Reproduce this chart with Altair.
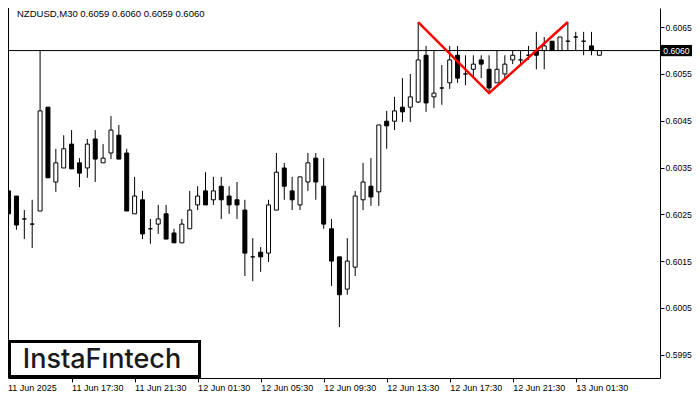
import altair as alt
import pandas as pd

# ---------------- data ----------------
opens = [0.60300, 0.60289, 0.60240, 0.60229, 0.60257, 0.60479, 0.60319, 0.60349, 0.60400, 0.60360,
         0.60349, 0.60411, 0.60360, 0.60381, 0.60419, 0.60381, 0.60251, 0.60281, 0.60219, 0.60229,
         0.60251, 0.60210, 0.60189, 0.60219, 0.60270, 0.60300, 0.60281, 0.60310, 0.60289, 0.60281,
         0.60259, 0.60159, 0.60169, 0.60167, 0.60259, 0.60349, 0.60300, 0.60270, 0.60319, 0.60370,
         0.60310, 0.60219, 0.60159, 0.60090, 0.60137, 0.60281, 0.60310, 0.60298, 0.60449, 0.60449,
         0.60479, 0.60479, 0.60490, 0.60590, 0.60501, 0.60520, 0.60531, 0.60590, 0.60550, 0.60560,
         0.60580, 0.60560, 0.60531, 0.60550, 0.60580, 0.60580, 0.60590, 0.60600, 0.60600, 0.60620,
         0.60600, 0.60620, 0.60629, 0.60620, 0.60610, 0.60590]
highs = [0.60304, 0.60289, 0.60259, 0.60281, 0.60600, 0.60479, 0.60390, 0.60419, 0.60430, 0.60370,
         0.60411, 0.60430, 0.60400, 0.60460, 0.60441, 0.60390, 0.60330, 0.60300, 0.60240, 0.60270,
         0.60270, 0.60219, 0.60240, 0.60300, 0.60310, 0.60340, 0.60330, 0.60330, 0.60310, 0.60319,
         0.60281, 0.60199, 0.60180, 0.60281, 0.60381, 0.60360, 0.60330, 0.60330, 0.60381, 0.60381,
         0.60370, 0.60240, 0.60159, 0.60199, 0.60300, 0.60360, 0.60370, 0.60441, 0.60471, 0.60501,
         0.60541, 0.60550, 0.60661, 0.60610, 0.60599, 0.60569, 0.60610, 0.60610, 0.60590, 0.60590,
         0.60590, 0.60590, 0.60600, 0.60590, 0.60600, 0.60600, 0.60610, 0.60640, 0.60629, 0.60620,
         0.60629, 0.60661, 0.60640, 0.60640, 0.60640, 0.60600]
lows = [0.60225, 0.60217, 0.60197, 0.60178, 0.60257, 0.60328, 0.60298, 0.60349, 0.60347, 0.60308,
        0.60328, 0.60319, 0.60360, 0.60368, 0.60368, 0.60257, 0.60251, 0.60197, 0.60187, 0.60208,
        0.60197, 0.60189, 0.60189, 0.60219, 0.60259, 0.60270, 0.60270, 0.60240, 0.60251, 0.60240,
        0.60118, 0.60107, 0.60127, 0.60148, 0.60259, 0.60281, 0.60259, 0.60259, 0.60300, 0.60281,
        0.60219, 0.60097, 0.60009, 0.60078, 0.60118, 0.60259, 0.60268, 0.60268, 0.60390, 0.60430,
        0.60447, 0.60447, 0.60488, 0.60469, 0.60477, 0.60484, 0.60518, 0.60531, 0.60526, 0.60541,
        0.60541, 0.60509, 0.60531, 0.60541, 0.60571, 0.60571, 0.60580, 0.60560, 0.60560, 0.60600,
        0.60600, 0.60600, 0.60600, 0.60590, 0.60590, 0.60590]
closes = [0.60251, 0.60227, 0.60240, 0.60229, 0.60471, 0.60328, 0.60360, 0.60390, 0.60347, 0.60338,
          0.60400, 0.60368, 0.60370, 0.60430, 0.60368, 0.60257, 0.60289, 0.60208, 0.60219, 0.60240,
          0.60197, 0.60189, 0.60229, 0.60259, 0.60289, 0.60270, 0.60300, 0.60281, 0.60270, 0.60270,
          0.60167, 0.60159, 0.60159, 0.60270, 0.60340, 0.60310, 0.60281, 0.60330, 0.60360, 0.60319,
          0.60229, 0.60150, 0.60078, 0.60150, 0.60289, 0.60319, 0.60287, 0.60441, 0.60439, 0.60471,
          0.60469, 0.60501, 0.60580, 0.60488, 0.60509, 0.60520, 0.60580, 0.60541, 0.60550, 0.60571,
          0.60571, 0.60520, 0.60560, 0.60571, 0.60590, 0.60580, 0.60590, 0.60590, 0.60610, 0.60600,
          0.60629, 0.60620, 0.60629, 0.60620, 0.60600, 0.60600]

tick_idx = [0, 8, 16, 24, 32, 40, 48, 56, 64, 72]
tick_labels = ["11 Jun 2025", "11 Jun 17:30", "11 Jun 21:30", "12 Jun 01:30", "12 Jun 05:30",
               "12 Jun 09:30", "12 Jun 13:30", "12 Jun 17:30", "12 Jun 21:30", "13 Jun 01:30"]
price_ticks = [0.5995, 0.6005, 0.6015, 0.6025, 0.6035, 0.6045, 0.6055, 0.6065]

pattern_idx = [52, 61, 71]
pattern_price = [0.60661, 0.60509, 0.60661]

current_price = 0.6060
title_text = "NZDUSD,M30  0.6059 0.6060 0.6059 0.6060"
logo_text = "InstaF\u0131ntech"

# ---------------- layout ----------------
W, H = 652, 370
FONT = "Liberation Sans"
RFS = 8.6  # right axis font size
BFS = 9.0  # bottom axis font size

df = pd.DataFrame({"i": list(range(len(opens))), "open": opens, "high": highs,
                   "low": lows, "close": closes})
df["fill"] = ["white" if c >= o else "black" for o, c in zip(opens, closes)]
pat = pd.DataFrame({"i": pattern_idx, "p": pattern_price})

xscale = alt.Scale(domain=[0.5625, 82.0625], nice=False, zero=False)
yscale = alt.Scale(domain=[0.59900, 0.60691], nice=False, zero=False)

label_expr = "[" + ",".join("'%s'" % s for s in tick_labels) + "][round(datum.value/8)]"

x_axis = alt.Axis(values=tick_idx[1:], labelExpr=label_expr, labelAlign="left",
                  labelBaseline="top", labelPadding=1.5, tickSize=4, tickColor="black",
                  domainColor="black", labelColor="black", labelFont=FONT,
                  labelFontSize=BFS, grid=False, title=None, labelFlush=False,
                  labelOverlap=False)
y_axis = alt.Axis(values=price_ticks, format=".4f", orient="right", tickSize=4,
                  tickColor="black", domainColor="black", labelColor="black",
                  labelFont=FONT, labelFontSize=RFS, labelPadding=1, grid=False,
                  title=None, labelFlush=False, labelOverlap=False)

base = alt.Chart(df)

price_line = alt.Chart(pd.DataFrame({"p": [current_price]})).mark_rule(
    color="black", strokeWidth=1
).encode(y=alt.Y("p:Q", scale=yscale, axis=y_axis))

wicks = base.mark_rule(color="black", strokeWidth=1, clip=True).encode(
    x=alt.X("i:Q", scale=xscale, axis=x_axis),
    y=alt.Y("low:Q", scale=yscale),
    y2="high:Q",
)
bodies = base.mark_bar(width=4, stroke="black", strokeWidth=1, clip=True).encode(
    x=alt.X("i:Q", scale=xscale),
    y=alt.Y("open:Q", scale=yscale),
    y2="close:Q",
    fill=alt.Fill("fill:N", scale=None),
)

pattern = alt.Chart(pat).mark_line(color="#ff0000", strokeWidth=2.5).encode(
    x=alt.X("i:Q", scale=xscale),
    y=alt.Y("p:Q", scale=yscale),
)

left_border = alt.Chart(pd.DataFrame({"a": [0]})).mark_rule(color="black").encode(
    x=alt.value(0.5), y=alt.value(0), y2=alt.value(H)
)

tag_df = pd.DataFrame({"p": [current_price], "t": ["%.4f" % current_price]})
tag_box = alt.Chart(tag_df).mark_rect(color="black").encode(
    x=alt.value(W + 1), x2=alt.value(W + 32),
    y=alt.datum(0.60612), y2=alt.datum(0.60588),
)
tag_text = alt.Chart(tag_df).mark_text(
    color="white", font=FONT, fontSize=RFS, align="center", baseline="middle"
).encode(x=alt.value(W + 16.5), y=alt.Y("p:Q", scale=yscale), text="t:N")

first_label = alt.Chart(pd.DataFrame({"t": [tick_labels[0]]})).mark_text(
    color="black", font=FONT, fontSize=BFS, align="left", baseline="top"
).encode(x=alt.value(0), y=alt.value(H + 5.5), text="t:N")

title = alt.Chart(pd.DataFrame({"t": [title_text]})).mark_text(
    color="black", font=FONT, fontSize=9.5, align="left", baseline="top"
).encode(x=alt.value(9), y=alt.value(1), text="t:N")

logo_box = alt.Chart(pd.DataFrame({"a": [0]})).mark_rect(
    fill="white", stroke="black", strokeWidth=3
).encode(x=alt.value(1.5), x2=alt.value(191.5), y=alt.value(333.5), y2=alt.value(368.5))
logo = alt.Chart(pd.DataFrame({"t": [logo_text]})).mark_text(
    color="#1a1a1a", font="Inter", fontSize=27, fontWeight=500, align="center",
    baseline="alphabetic"
).encode(x=alt.value(94), y=alt.value(360), text="t:N")

chart = alt.layer(
    price_line, wicks, bodies, pattern, left_border, tag_box, tag_text,
    first_label, title, logo_box, logo
).properties(
    width=W, height=H,
    autosize=alt.AutoSizeParams(type="none"),
    padding={"left": 0, "top": 0, "right": 32, "bottom": 14},
    background="white",
).configure_view(stroke="transparent")

chart.save("out.html", embed_options={"renderer": "svg", "actions": False})
